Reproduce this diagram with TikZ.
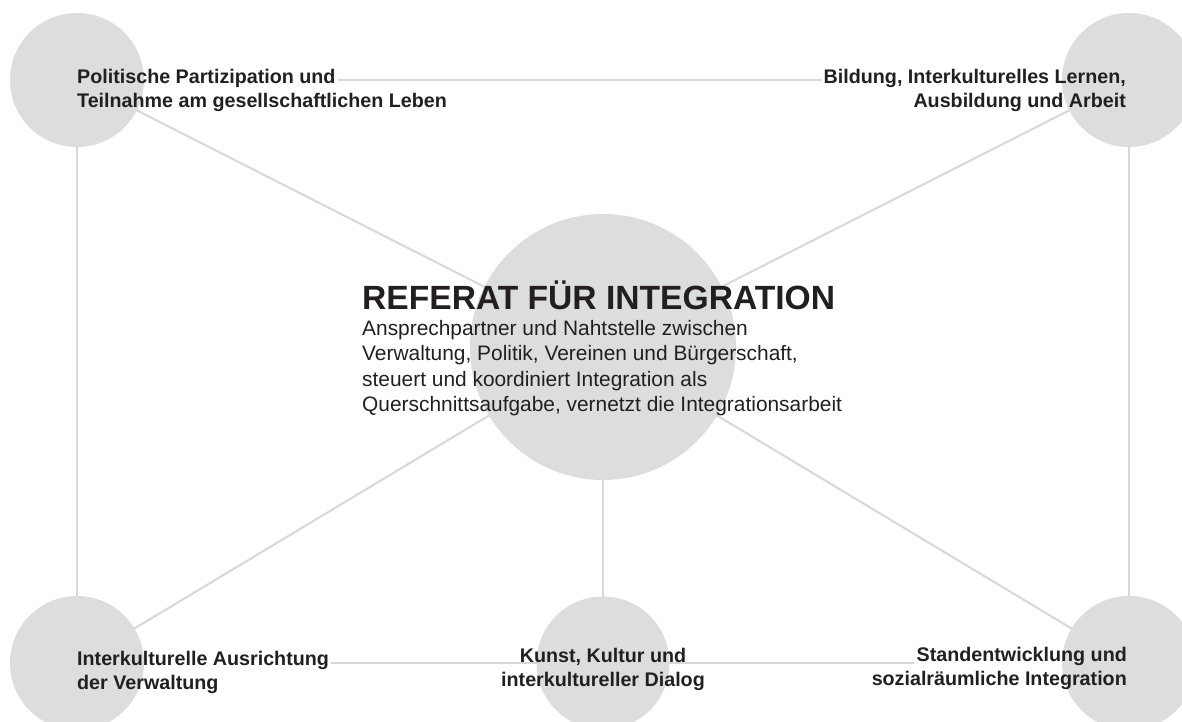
\documentclass[tikz,border=0pt]{standalone}
\usepackage{fontspec}
\setmainfont{Liberation Sans}
\pgfdeclarelayer{bg}
\pgfsetlayers{bg,main}
\definecolor{ink}{HTML}{231F20}
\definecolor{blobgray}{HTML}{DCDDDF}
\definecolor{linegray}{HTML}{D8D8D8}
\tikzset{
  blob/.style={circle, fill=blobgray, draw=none, inner sep=0pt},
  conn/.style={draw=linegray, line width=2pt},
  lbl/.style={inner sep=0pt, text=ink, font=\fontsize{19.7}{24}\selectfont\bfseries},
  ttl/.style={inner sep=0pt, text=ink, font=\fontsize{33.6}{40}\selectfont\bfseries},
  bodytxt/.style={inner sep=0pt, text=ink, font=\fontsize{20.9}{25.5}\selectfont},
}
\begin{document}
\begin{tikzpicture}[x=1pt,y=-1pt]
\useasboundingbox (0,0) rectangle (1182,722);
% circles
\node[blob, minimum size=134pt] (tl) at (77,80) {};
\node[blob, minimum size=134pt] (tr) at (1129,80) {};
\node[blob, minimum size=134pt] (bl) at (77,663) {};
\node[blob, minimum size=133pt] (bm) at (603,663) {};
\node[blob, minimum size=134pt] (br) at (1129,663) {};
\node[blob, minimum size=266pt] (c) at (603,347) {};
% labels
\node[lbl, anchor=base west] (tl1) at (77,84) {Politische Partizipation und};
\node[lbl, anchor=base west] (tl2) at (77,108) {Teilnahme am gesellschaftlichen Leben};
\node[lbl, anchor=base east] (tr1) at (1126,84) {Bildung, Interkulturelles Lernen,};
\node[lbl, anchor=base east] (tr2) at (1126,108) {Ausbildung und Arbeit};
\node[lbl, anchor=base west] (bl1) at (77,665) {Interkulturelle Ausrichtung};
\node[lbl, anchor=base west] (bl2) at (77,689) {der Verwaltung};
\node[lbl, anchor=base] (bm1) at (603,662) {Kunst, Kultur und};
\node[lbl, anchor=base] (bm2) at (603,686) {interkultureller Dialog};
\node[lbl, anchor=base east] (br1) at (1127,661) {Standentwicklung und};
\node[lbl, anchor=base east] (br2) at (1127,685) {sozialräumliche Integration};
% centre text
\node[ttl, anchor=base west] (title) at (362,309) {REFERAT FÜR INTEGRATION};
\node[bodytxt, anchor=base west] (body) at (362,335)
  {\begin{tabular}[t]{@{}l@{}}Ansprechpartner und Nahtstelle zwischen\\
   Verwaltung, Politik, Vereinen und Bürgerschaft,\\
   steuert und koordiniert Integration als\\
   Querschnittsaufgabe, vernetzt die Integrationsarbeit\end{tabular}};
% connectors
\begin{pgfonlayer}{bg}
\draw[conn] ([xshift=2pt]tl1.east |- tl.center) -- ([xshift=-2pt]tr1.west |- tr.center);
\draw[conn] ([xshift=2pt]bl1.east |- bl.center) -- (bm.center);
\draw[conn] (bm.center) -- ([xshift=-2pt]br1.west |- br.center);
\draw[conn] (tl.center) -- (bl.center);
\draw[conn] (tr.center) -- (br.center);
\draw[conn] (c.center) -- (tl.center);
\draw[conn] (c.center) -- (tr.center);
\draw[conn] (c.center) -- (bl.center);
\draw[conn] (c.center) -- (br.center);
\draw[conn] (c.center) -- (bm.center);
\end{pgfonlayer}
\end{tikzpicture}
\end{document}
